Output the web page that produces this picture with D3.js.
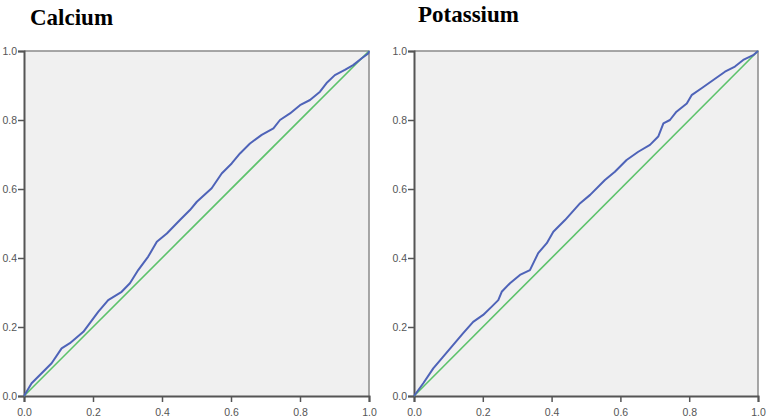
<!DOCTYPE html>
<html>
<head>
<meta charset="utf-8">
<script src="https://cdn.jsdelivr.net/npm/d3@7"></script>
<style>
  body { margin: 0; background: #fff; }
  .tick text { font-family: Arial, "Liberation Sans", sans-serif; font-size: 10.5px; fill: #555; }
</style>
</head>
<body>
<div id="chart"></div>
<script>
const width = 769;
const height = 418;

// Calcium curve (x, y)
const calciumX = [0, 0.022, 0.046, 0.080, 0.109, 0.133, 0.172, 0.215, 0.244, 0.283, 0.307, 0.331, 0.360, 0.385, 0.414, 0.452, 0.481, 0.501, 0.544, 0.573, 0.602, 0.626, 0.655, 0.689, 0.723, 0.742, 0.771, 0.800, 0.829, 0.858, 0.877, 0.901, 0.930, 0.954, 0.979, 0.998, 1];
const calciumY = [0, 0.037, 0.061, 0.095, 0.138, 0.153, 0.186, 0.244, 0.278, 0.302, 0.327, 0.365, 0.404, 0.447, 0.471, 0.510, 0.539, 0.563, 0.602, 0.645, 0.674, 0.703, 0.732, 0.757, 0.776, 0.800, 0.819, 0.843, 0.858, 0.882, 0.907, 0.930, 0.945, 0.959, 0.979, 0.993, 1];

// Potassium curve (x, y)
const potassiumX = [0, 0.027, 0.056, 0.085, 0.114, 0.143, 0.172, 0.201, 0.226, 0.245, 0.255, 0.279, 0.308, 0.337, 0.361, 0.386, 0.405, 0.439, 0.483, 0.512, 0.555, 0.584, 0.618, 0.652, 0.686, 0.710, 0.725, 0.744, 0.763, 0.793, 0.807, 0.836, 0.870, 0.904, 0.933, 0.957, 0.986, 1];
const potassiumY = [0, 0.037, 0.080, 0.114, 0.148, 0.182, 0.215, 0.235, 0.259, 0.278, 0.302, 0.327, 0.351, 0.365, 0.414, 0.443, 0.476, 0.510, 0.559, 0.583, 0.626, 0.650, 0.684, 0.708, 0.728, 0.752, 0.790, 0.800, 0.824, 0.848, 0.872, 0.892, 0.916, 0.940, 0.955, 0.974, 0.988, 1];

const tickValues = [0, 0.2, 0.4, 0.6, 0.8, 1.0];
const refLine = [0, 1];

const panels = [
  {title: 'Calcium', xs: calciumX, ys: calciumY, left: 24, right: 369, titleX: 30, titleY: 25},
  {title: 'Potassium', xs: potassiumX, ys: potassiumY, left: 414, right: 758, titleX: 418, titleY: 22}
];

const svg = d3.select('#chart').append('svg')
  .attr('width', width)
  .attr('height', height);

panels.forEach(p => {
  const x = d3.scaleLinear().domain([0, 1]).range([p.left, p.right]);
  const y = d3.scaleLinear().domain([0, 1]).range([396, 51]);

  // plot background
  svg.append('rect')
    .attr('x', x(0)).attr('y', y(1))
    .attr('width', x(1) - x(0)).attr('height', y(0) - y(1))
    .attr('fill', '#f0f0f0');

  // top and right border
  svg.append('path')
    .attr('d', 'M' + x(0) + ',' + y(1) + 'H' + x(1) + 'V' + y(0))
    .attr('fill', 'none')
    .attr('stroke', '#8a8a8a')
    .attr('stroke-width', 1.5);

  // axes
  const fmt = d3.format('.1f');
  const xAxis = svg.append('g')
    .attr('transform', 'translate(0,' + y(0) + ')')
    .call(d3.axisBottom(x).tickValues(tickValues).tickFormat(fmt).tickSize(6).tickPadding(3));
  const yAxis = svg.append('g')
    .attr('transform', 'translate(' + x(0) + ',0)')
    .call(d3.axisLeft(y).tickValues(tickValues).tickFormat(fmt).tickSize(6).tickPadding(1));
  [xAxis, yAxis].forEach(a => {
    a.select('.domain').attr('stroke', '#555').attr('stroke-width', 2);
    a.selectAll('.tick line').attr('stroke', '#555').attr('stroke-width', 1.5);
  });
  xAxis.selectAll('.tick text').attr('dy', '1.0em');
  yAxis.selectAll('.tick text').attr('dy', '0.35em');

  // reference diagonal
  svg.append('path')
    .datum(refLine)
    .attr('d', d3.line().x(d => x(d)).y(d => y(d)))
    .attr('fill', 'none')
    .attr('stroke', '#5cc26b')
    .attr('stroke-width', 1.6);

  // curve
  const pts = p.xs.map((v, i) => [v, p.ys[i]]);
  svg.append('path')
    .datum(pts)
    .attr('d', d3.line().x(d => x(d[0])).y(d => y(d[1])))
    .attr('fill', 'none')
    .attr('stroke', '#4e63b8')
    .attr('stroke-width', 2)
    .attr('stroke-linejoin', 'round');

  // title
  svg.append('text')
    .attr('x', p.titleX)
    .attr('y', p.titleY)
    .attr('font-family', '"Liberation Serif", "Times New Roman", serif')
    .attr('font-weight', 'bold')
    .attr('font-size', 23)
    .attr('fill', '#000')
    .text(p.title);
});
</script>
</body>
</html>
